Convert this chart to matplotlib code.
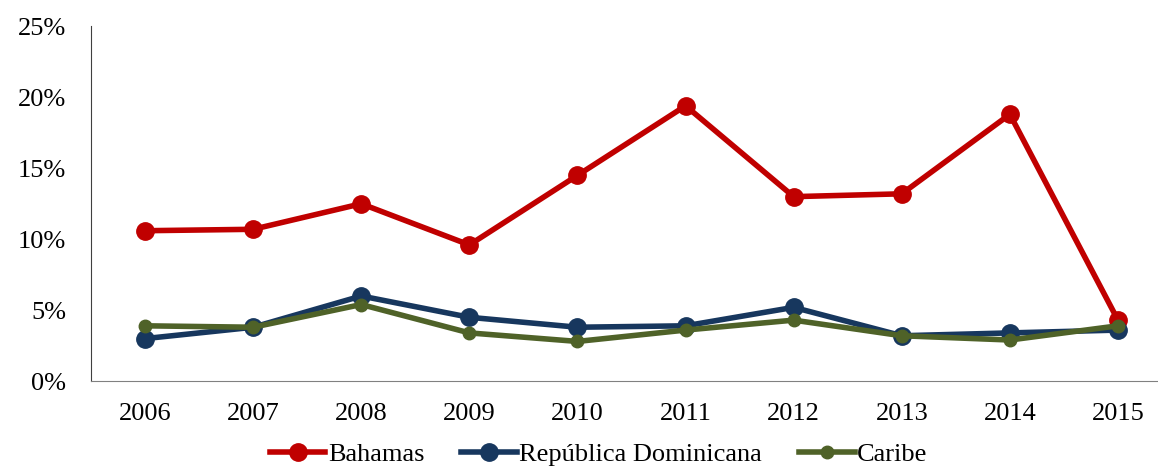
import matplotlib.pyplot as plt
from matplotlib.ticker import FuncFormatter

# Data (share, %)
years = ['2006', '2007', '2008', '2009', '2010', '2011', '2012', '2013', '2014', '2015']
bahamas = [10.6, 10.7, 12.5, 9.6, 14.5, 19.4, 13.0, 13.2, 18.8, 4.3]
rep_dom = [3.0, 3.8, 6.0, 4.5, 3.8, 3.9, 5.2, 3.2, 3.4, 3.6]
caribe = [3.9, 3.8, 5.4, 3.4, 2.8, 3.6, 4.3, 3.2, 2.9, 3.9]

plt.rcParams['font.family'] = ['Liberation Serif', 'DejaVu Serif']

fig = plt.figure(figsize=(11.58, 4.70), dpi=100)
ax = fig.add_axes([0.0786, 0.189, 0.9335, 0.755])

x = range(len(years))
ax.plot(x, bahamas, color='#C00000', lw=4, marker='o', ms=12.5, label='Bahamas')
ax.plot(x, rep_dom, color='#17375E', lw=4, marker='o', ms=12.5, label='República Dominicana')
ax.plot(x, caribe, color='#4F6228', lw=4, marker='o', ms=9, label='Caribe')

ax.set_xlim(-0.5, 9.5)
ax.set_ylim(0, 25)
ax.set_yticks([0, 5, 10, 15, 20, 25])
ax.yaxis.set_major_formatter(FuncFormatter(lambda v, p: f'{v:.0f}%'))
ax.set_xticks(list(x))
ax.set_xticklabels(years)
ax.tick_params(axis='both', length=0, labelsize=19, colors='black')
ax.tick_params(axis='x', pad=16)
ax.tick_params(axis='y', pad=18)

ax.spines['top'].set_visible(False)
ax.spines['right'].set_visible(False)
ax.spines['left'].set_color('#404040')
ax.spines['bottom'].set_color('#808080')

# legend sits low, as in the reference, but keeps descenders inside the figure
fig.legend(loc='lower center', bbox_to_anchor=(0.517, -0.042), ncol=3, frameon=False,
           fontsize=19, handlelength=2.1, handletextpad=0.1, columnspacing=1.4)

fig.savefig('out.png', dpi=100)
